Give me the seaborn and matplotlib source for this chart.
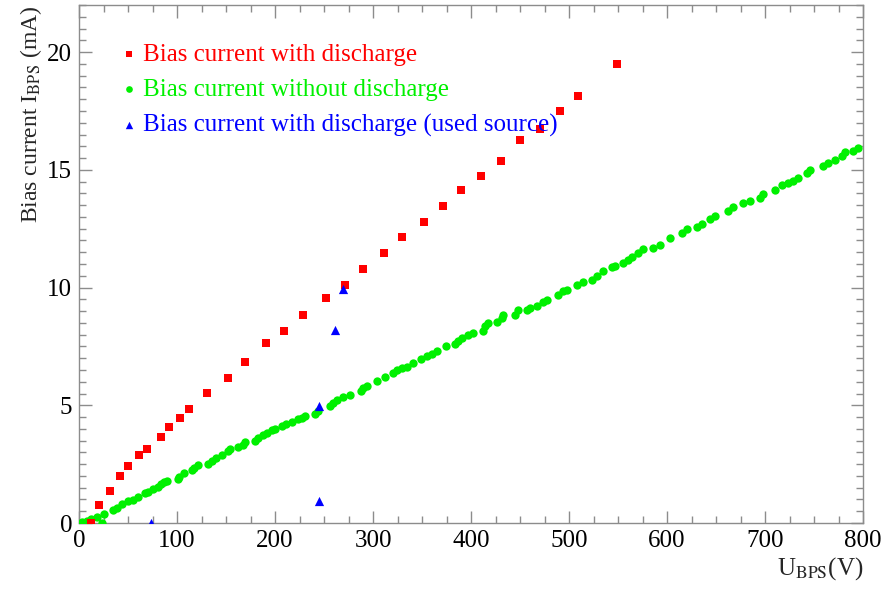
import matplotlib
matplotlib.use("Agg")
import matplotlib.pyplot as plt
import seaborn as sns
import pandas as pd
from matplotlib.ticker import MultipleLocator

# ---------------- data ----------------
red_v = [12, 20.7, 31.9, 41.5, 50.0, 61.5, 69.1, 84.0, 92.1, 103.0, 111.9, 130.9,
         151.7, 169.4, 190.5, 208.9, 228.9, 252.0, 271.7, 289.5, 311.2, 329.9, 352.0,
         371.4, 389.5, 409.9, 430.9, 450.3, 470.7, 490.5, 508.9, 549.0]
red_i = [0.0, 0.75, 1.37, 2.01, 2.41, 2.89, 3.15, 3.67, 4.09, 4.44, 4.86, 5.54,
         6.16, 6.82, 7.65, 8.14, 8.82, 9.57, 10.11, 10.80, 11.45, 12.14, 12.78,
         13.46, 14.16, 14.75, 15.37, 16.27, 16.74, 17.50, 18.14, 19.48]

green_v = [2.7, 7.8, 12.2, 18.0, 23.1, 25.9, 35.0, 38.4, 43.5, 50.3, 55.4, 59.9,
           67.3, 70.7, 75.9, 80.3, 83.7, 87.1, 89.5, 100.7, 102.0, 107.5, 115.0,
           117.7, 121.1, 131.3, 136.1, 139.5, 145.6, 151.7, 154.1, 162.6, 167.7,
           169.4, 179.6, 183.0, 188.1, 191.5, 196.6, 200.0, 206.8, 211.2, 217.0,
           223.1, 227.2, 230.6, 240.8, 244.2, 256.1, 259.5, 262.9, 269.7, 276.5,
           287.4, 290.1, 293.5, 303.7, 312.2, 320.7, 324.1, 329.3, 334.4, 341.2,
           348.6, 354.8, 359.9, 365.0, 374.5, 383.7, 387.1, 390.5, 397.3, 402.4,
           411.9, 414.3, 417.7, 426.2, 431.3, 432.3, 444.9, 448.3, 456.8, 460.2,
           467.0, 473.8, 477.2, 489.1, 494.2, 497.6, 507.8, 514.6, 523.1, 528.3,
           535.0, 543.5, 546.9, 555.4, 560.5, 563.9, 570.7, 575.9, 586.1, 592.9,
           603.1, 615.0, 620.1, 630.3, 635.4, 643.9, 649.0, 662.6, 667.7, 677.9,
           684.7, 694.9, 698.3, 710.2, 717.0, 723.8, 728.9, 734.0, 742.5, 745.9,
           759.5, 764.6, 771.4, 778.2, 781.6, 790.1, 795.2]
green_i = [0.06, 0.10, 0.17, 0.27, 0.00, 0.40, 0.55, 0.62, 0.81, 0.94, 0.98, 1.09,
           1.29, 1.33, 1.45, 1.55, 1.65, 1.73, 1.80, 1.86, 1.97, 2.11, 2.25,
           2.33, 2.47, 2.50, 2.65, 2.75, 2.87, 3.04, 3.14, 3.21, 3.32,
           3.43, 3.49, 3.60, 3.74, 3.82, 3.96, 4.00, 4.13, 4.20, 4.27,
           4.41, 4.48, 4.55, 4.63, 4.74, 4.98, 5.09, 5.21, 5.35, 5.45,
           5.62, 5.73, 5.83, 6.04, 6.20, 6.37, 6.48, 6.57, 6.62, 6.79,
           6.96, 7.08, 7.17, 7.30, 7.53, 7.62, 7.74, 7.86, 7.97, 8.07,
           8.14, 8.35, 8.50, 8.52, 8.71, 8.85, 8.85, 9.06, 9.06, 9.13,
           9.20, 9.37, 9.49, 9.70, 9.86, 9.91, 10.10, 10.23, 10.34, 10.51,
           10.70, 10.87, 10.91, 11.05, 11.19, 11.29, 11.45, 11.64, 11.69, 11.79,
           12.11, 12.33, 12.47, 12.57, 12.68, 12.89, 13.04, 13.25, 13.43, 13.58,
           13.68, 13.82, 13.96, 14.14, 14.34, 14.46, 14.53, 14.67, 14.86, 15.00,
           15.17, 15.31, 15.41, 15.59, 15.74, 15.81, 15.94]

blue_v = [73.8, 244.9, 245.2, 261.5, 269.4]
blue_i = [0.0, 0.94, 4.98, 8.18, 9.94]

labels = ["Bias current with discharge",
          "Bias current without discharge",
          "Bias current with discharge (used source)"]
colors = ["#ff0000", "#00f000", "#0000ff"]

# ---------------- style ----------------
sns.set_style("ticks")
plt.rcParams["font.family"] = ["Liberation Serif", "DejaVu Serif"]
plt.rcParams["mathtext.fontset"] = "stix"

fig = plt.figure(figsize=(8.83, 5.94), dpi=100)
ax = fig.add_axes([79 / 883, 71 / 594, 784 / 883, 518 / 594])

df_r = pd.DataFrame({"U": red_v, "I": red_i})
df_g = pd.DataFrame({"U": green_v, "I": green_i})
df_b = pd.DataFrame({"U": blue_v, "I": blue_i})

sns.scatterplot(data=df_g, x="U", y="I", ax=ax, marker="o", s=36, color=colors[1],
                linewidth=0, label=labels[1], zorder=3)
sns.scatterplot(data=df_r, x="U", y="I", ax=ax, marker="s", s=38, color=colors[0],
                linewidth=0, label=labels[0], zorder=4)
sns.scatterplot(data=df_b, x="U", y="I", ax=ax, marker="^", s=44, color=colors[2],
                linewidth=0, label=labels[2], zorder=5)

ax.set_xlim(0, 800)
ax.set_ylim(0, 22)
ax.xaxis.set_major_locator(MultipleLocator(100))
ax.xaxis.set_minor_locator(MultipleLocator(25))
ax.yaxis.set_major_locator(MultipleLocator(5))
ax.yaxis.set_minor_locator(MultipleLocator(0.5))

gray = "#8c8c8c"
for sp in ax.spines.values():
    sp.set_visible(True)
    sp.set_color(gray)
    sp.set_linewidth(1.0)
ax.tick_params(which="both", direction="in", top=True, right=True, color=gray,
               labelsize=18, labelcolor="black")
ax.tick_params(which="major", length=9, width=1.0, pad=5)
ax.tick_params(which="minor", length=5, width=1.0)

ax.set_xlabel(r"U$_{\mathrm{BPS}}$(V)", fontsize=18, loc="right", labelpad=2)
ax.set_ylabel(r"Bias current I$_{\mathrm{BPS}}$ (mA)", fontsize=17, loc="top", labelpad=2)

# legend
handles, labs = ax.get_legend_handles_labels()
order = [labs.index(l) for l in labels]
leg = ax.legend([handles[k] for k in order], [labs[k] for k in order],
                loc="upper left", bbox_to_anchor=(0.043, 0.945), frameon=False,
                fontsize=18, handlelength=0.5, handletextpad=0.3,
                labelspacing=0.5, borderaxespad=0, markerscale=0.8)
for txt, c in zip(leg.get_texts(), colors):
    txt.set_color(c)

fig.savefig("out.png", dpi=100)
